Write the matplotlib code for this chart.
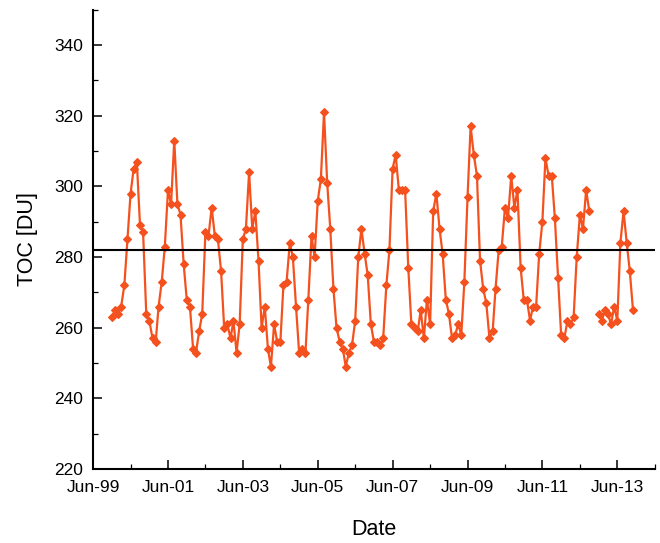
import matplotlib
matplotlib.use("Agg")
import matplotlib.dates as mdates
import matplotlib.pyplot as plt
from matplotlib.ticker import MultipleLocator
import numpy as np
import pandas as pd

# monthly total ozone column, Dec 1999 - Nov 2013 (Oct/Nov 2012 missing)
start_month = "1999-12-01"
toc = [
    263, 265, 264, 266, 272, 285, 298, 305, 307, 289, 287, 264,
    262, 257, 256, 266, 273, 283, 299, 295, 313, 295, 292, 278,
    268, 266, 254, 253, 259, 264, 287, 286, 294, 286, 285, 276,
    260, 261, 257, 262, 253, 261, 285, 288, 304, 288, 293, 279,
    260, 266, 254, 249, 261, 256, 256, 272, 273, 284, 280, 266,
    253, 254, 253, 268, 286, 280, 296, 302, 321, 301, 288, 271,
    260, 256, 254, 249, 253, 255, 262, 280, 288, 281, 275, 261,
    256, 256, 255, 257, 272, 282, 305, 309, 299, 299, 299, 277,
    261, 260, 259, 265, 257, 268, 261, 293, 298, 288, 281, 268,
    264, 257, 258, 261, 258, 273, 297, 317, 309, 303, 279, 271,
    267, 257, 259, 271, 282, 283, 294, 291, 303, 294, 299, 277,
    268, 268, 262, 266, 266, 281, 290, 308, 303, 303, 291, 274,
    258, 257, 262, 261, 263, 280, 292, 288, 299, 293, np.nan, np.nan,
    264, 262, 265, 264, 261, 266, 262, 284, 293, 284, 276, 265,
]
mean_toc = 282
tick_years = list(range(1999, 2014, 2))


def plot_data(figure_name):
    '''
    plots the monthly TOC series with its long term mean as a reference line
    '''
    plt.rcParams["font.family"] = ["Liberation Sans", "DejaVu Sans"]

    dates = pd.date_range(start_month, periods=len(toc), freq="MS")

    fig = plt.figure(figsize=(6.6, 5.43), dpi=100)
    ax = fig.add_axes([0.141, 0.136, 0.851, 0.846])

    ax.plot(dates, toc, color="#F4511E", linewidth=1.6,
            marker="D", markersize=3.9, markeredgewidth=0.8, zorder=3)
    ax.axhline(mean_toc, color="black", linewidth=1.5, zorder=4)

    ax.set_ylim(220, 350)
    ax.set_xlim(pd.Timestamp("1999-06-01"), pd.Timestamp("2014-03-20"))

    ax.set_xticks([pd.Timestamp(f"{y}-06-01") for y in tick_years])
    ax.set_xticks([pd.Timestamp(f"{y + 1}-06-01") for y in tick_years],
                  minor=True)
    ax.xaxis.set_major_formatter(mdates.DateFormatter("%b-%y"))
    ax.yaxis.set_major_locator(MultipleLocator(20))
    ax.yaxis.set_minor_locator(MultipleLocator(10))
    ax.set_yticks(range(220, 341, 20))

    for side in ["top", "right"]:
        ax.spines[side].set_visible(False)
    for side in ["left", "bottom"]:
        ax.spines[side].set_linewidth(1.5)

    ax.tick_params(which="major", direction="in", length=6.5, width=1.1,
                   labelsize=12.5)
    ax.tick_params(which="minor", direction="in", length=3.5, width=0.9)
    ax.tick_params(axis="x", which="major", pad=8)
    ax.tick_params(axis="y", which="major", pad=7)

    ax.set_xlabel("Date", fontsize=15.5, labelpad=17)
    ax.set_ylabel("TOC [DU]", fontsize=15.5, labelpad=12)

    fig.savefig(figure_name, dpi=100)


if __name__ == "__main__":
    plot_data("out.png")
